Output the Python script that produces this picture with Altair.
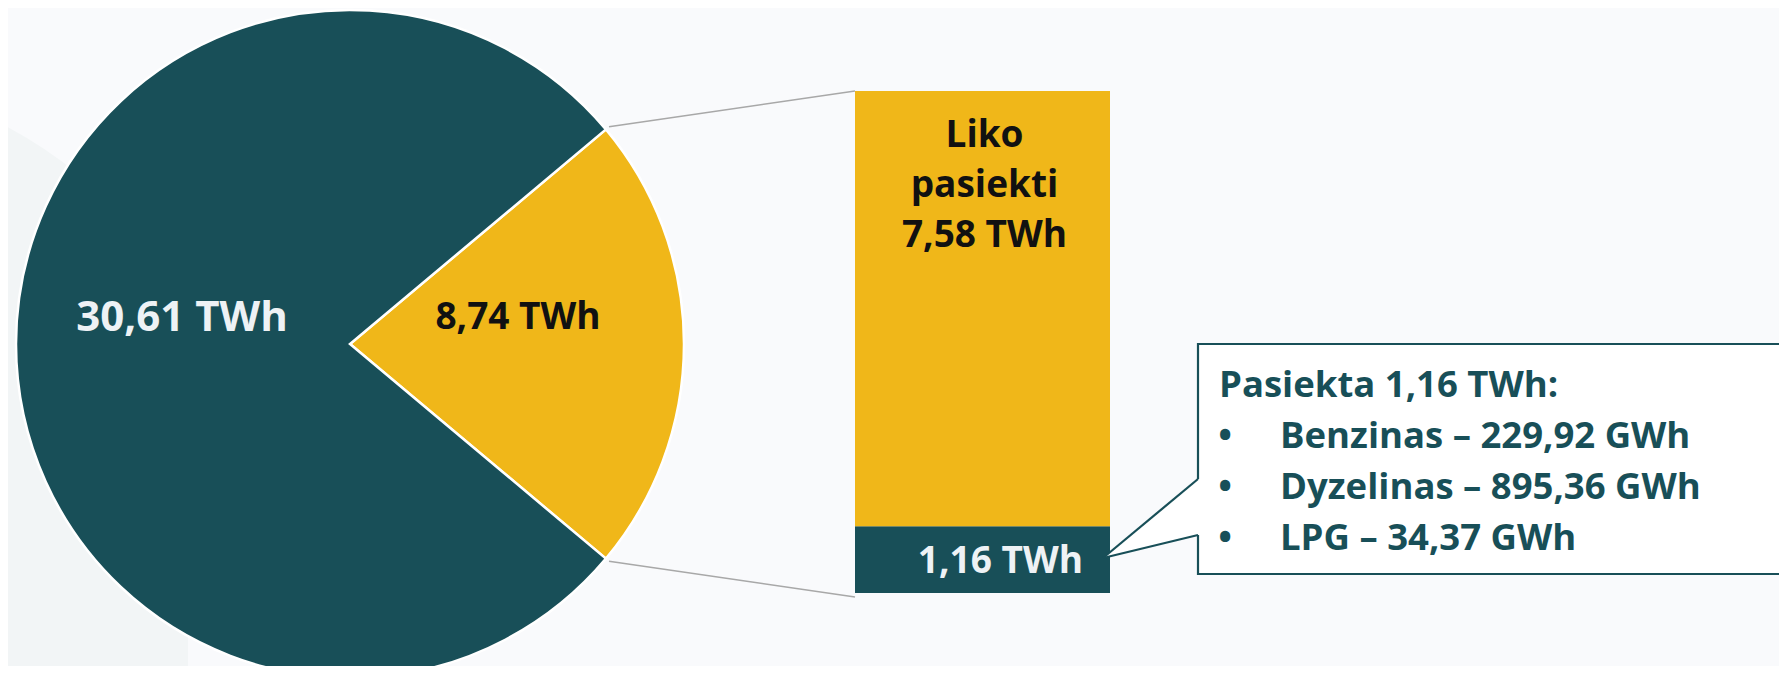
import math
import altair as alt
import pandas as pd

# ---------------- data ----------------
pie_names = ["Transportas (tikslas)", "Kita"]
pie_values = [8.74, 30.61]
pie_labels = ["8,74 TWh", "30,61 TWh"]

bar_names = ["Pasiekta", "Liko pasiekti"]
bar_values = [1.16, 7.58]
bar_labels = ["1,16 TWh", "Liko\npasiekti\n7,58 TWh"]

callout_title = "Pasiekta 1,16 TWh:"
callout_items = ["Benzinas – 229,92 GWh", "Dyzelinas – 895,36 GWh", "LPG – 34,37 GWh"]

# ---------------- style ----------------
W, H = 1771, 658
TEAL = "#184F58"
YELLOW = "#F0B719"
BG = "#F9FAFC"
SHAPE = "#F2F5F6"
GREY = "#A8A8A8"
WHITE_TXT = "#EEF2F5"
FONT = "Open Sans"

CX, CY, R = 342, 336, 334
total = sum(pie_values)
span = 2 * math.pi * pie_values[0] / total
start = math.pi / 2 - span / 2          # yellow slice centred at 3 o'clock
theta_scale = alt.Scale(domain=[0, total], range=[start, start + 2 * math.pi])

bar_total = sum(bar_values)
BAR_BOTTOM, BAR_TOP = 585, 83
BX0, BX1 = 847, 1102
y_bar = alt.Scale(domain=[0, bar_total], range=[BAR_BOTTOM, BAR_TOP])

# ---------------- background shape ----------------
one = pd.DataFrame({"a": [0]})
bg_circle = alt.Chart(one).mark_arc(
    radius=445, theta=0, theta2=2 * math.pi, color=SHAPE, opacity=1
).encode(x=alt.value(-211), y=alt.value(511))
bg_cover = alt.Chart(one).mark_rect(color=BG).encode(
    x=alt.value(180), x2=alt.value(W), y=alt.value(0), y2=alt.value(H)
)

# ---------------- pie ----------------
pie_df = pd.DataFrame({
    "name": pie_names,
    "value": pie_values,
    "label": pie_labels,
    "ord": [0, 1],
    "fill": [YELLOW, TEAL],
    "tcolor": ["#111111", WHITE_TXT],
    "tsize": [37, 42],
})
pie = alt.Chart(pie_df).mark_arc(radius=R, stroke="white", strokeWidth=2.5).encode(
    theta=alt.Theta("value:Q", stack=True, scale=theta_scale),
    order=alt.Order("ord:Q"),
    color=alt.Color("fill:N", scale=None),
    x=alt.value(CX), y=alt.value(CY),
)
pie_text = alt.Chart(pie_df).mark_text(
    radius=168, dy=-26, font=FONT, fontWeight="bold", align="center", baseline="middle"
).encode(
    theta=alt.Theta("value:Q", stack=True, scale=theta_scale),
    order=alt.Order("ord:Q"),
    text="label:N",
    color=alt.Color("tcolor:N", scale=None),
    size=alt.Size("tsize:Q", scale=None),
    x=alt.value(CX), y=alt.value(CY),
)

# ---------------- connector lines ----------------
a1, a2 = start, start + span
p1 = (CX + (R + 4) * math.sin(a1), CY - (R + 4) * math.cos(a1))
p2 = (CX + (R + 4) * math.sin(a2), CY - (R + 4) * math.cos(a2))
conn1 = alt.Chart(one).mark_rule(color=GREY, strokeWidth=1.6).encode(
    x=alt.value(p1[0]), y=alt.value(p1[1]), x2=alt.value(BX0), y2=alt.value(BAR_TOP)
)
conn2 = alt.Chart(one).mark_rule(color=GREY, strokeWidth=1.6).encode(
    x=alt.value(p2[0]), y=alt.value(p2[1]), x2=alt.value(BX0), y2=alt.value(BAR_BOTTOM + 4)
)

# ---------------- stacked bar ----------------
y0, acc = [], 0.0
for v in bar_values:
    y0.append(acc)
    acc += v
bar_df = pd.DataFrame({
    "name": bar_names,
    "y0": y0,
    "y1": [a + v for a, v in zip(y0, bar_values)],
    "label": bar_labels,
    "fill": [TEAL, YELLOW],
})
bar = alt.Chart(bar_df).mark_rect().encode(
    x=alt.value(BX0), x2=alt.value(BX1),
    y=alt.Y("y0:Q", scale=y_bar, axis=None),
    y2="y1:Q",
    color=alt.Color("fill:N", scale=None),
)
bar_txt_top = alt.Chart(bar_df.iloc[[1]]).mark_text(
    font=FONT, fontWeight="bold", fontSize=37, color="#111111", align="center",
    baseline="alphabetic", lineBreak="\n", lineHeight=50, dy=56,
).encode(
    x=alt.value((BX0 + BX1) / 2 + 2),
    y=alt.Y("y1:Q", scale=y_bar, axis=None),
    text="label:N",
)
bar_txt_bottom = alt.Chart(bar_df.iloc[[0]]).mark_text(
    font=FONT, fontWeight="bold", fontSize=37, color=WHITE_TXT, align="right",
    baseline="alphabetic", dy=-20,
).encode(
    x=alt.value(BX1 - 27),
    y=alt.Y("y0:Q", scale=y_bar, axis=None),
    text="label:N",
)

# ---------------- callout ----------------
BOX_L, BOX_T, BOX_B = 1190, 336, 566
PT_TOP, PT_BOT = 471, 527
TIP = (1095, 550)
ptr_df = pd.DataFrame({"px": [TIP[0], BOX_L + 2], "top": [TIP[1], PT_TOP], "bot": [TIP[1], PT_BOT]})
ident_x = alt.Scale(domain=[0, W], range=[0, W], nice=False, zero=False)
ident_y = alt.Scale(domain=[0, H], range=[0, H], nice=False, zero=False)
ptr_fill = alt.Chart(ptr_df).mark_area(color="white", opacity=1).encode(
    x=alt.X("px:Q", scale=ident_x, axis=None),
    y=alt.Y("top:Q", scale=ident_y, axis=None),
    y2="bot:Q",
)
box_fill = alt.Chart(one).mark_rect(color="white").encode(
    x=alt.value(BOX_L), x2=alt.value(W + 20), y=alt.value(BOX_T), y2=alt.value(BOX_B)
)
def seg(xa, ya, xb, yb):
    return alt.Chart(one).mark_rule(color=TEAL, strokeWidth=2.2).encode(
        x=alt.value(xa), y=alt.value(ya), x2=alt.value(xb), y2=alt.value(yb)
    )
box_lines = [
    seg(BOX_L, BOX_T, W + 20, BOX_T),
    seg(BOX_L, BOX_B, W + 20, BOX_B),
    seg(BOX_L, BOX_T - 1, BOX_L, PT_TOP),
    seg(BOX_L, PT_BOT, BOX_L, BOX_B + 1),
    seg(BOX_L, PT_TOP, TIP[0], TIP[1]),
    seg(TIP[0], TIP[1], BOX_L, PT_BOT),
]

rows = [callout_title] + callout_items
call_df = pd.DataFrame({"text": rows, "i": list(range(len(rows)))})
y_lines = alt.Scale(domain=[0, len(rows) - 1], range=[389, 542])
CFS = 36.5
call_title = alt.Chart(call_df).transform_filter("datum.i == 0").mark_text(
    font=FONT, fontWeight="bold", fontSize=CFS, color=TEAL, align="left", baseline="alphabetic"
).encode(x=alt.value(1211), y=alt.Y("i:Q", scale=y_lines, axis=None), text="text:N")
call_items = alt.Chart(call_df).transform_filter("datum.i > 0").mark_text(
    font=FONT, fontWeight="bold", fontSize=CFS, color=TEAL, align="left", baseline="alphabetic"
).encode(x=alt.value(1272), y=alt.Y("i:Q", scale=y_lines, axis=None), text="text:N")
call_bullets = alt.Chart(call_df).transform_filter("datum.i > 0").mark_text(
    font=FONT, fontWeight="bold", fontSize=CFS, color=TEAL, align="center", baseline="alphabetic"
).encode(x=alt.value(1217), y=alt.Y("i:Q", scale=y_lines, axis=None), text=alt.value("•"))

chart = alt.layer(
    bg_circle, bg_cover, pie, pie_text, conn1, conn2, bar, bar_txt_top, bar_txt_bottom,
    ptr_fill, box_fill, *box_lines, call_title, call_items, call_bullets,
).resolve_scale(
    x="independent", y="independent", theta="independent", color="independent", size="independent"
).properties(
    width=W, height=H, background=BG, padding=0, autosize=alt.AutoSizeParams(type="none")
).configure_view(stroke=None)

chart.save("out.html", embed_options={"renderer": "svg", "actions": False})
